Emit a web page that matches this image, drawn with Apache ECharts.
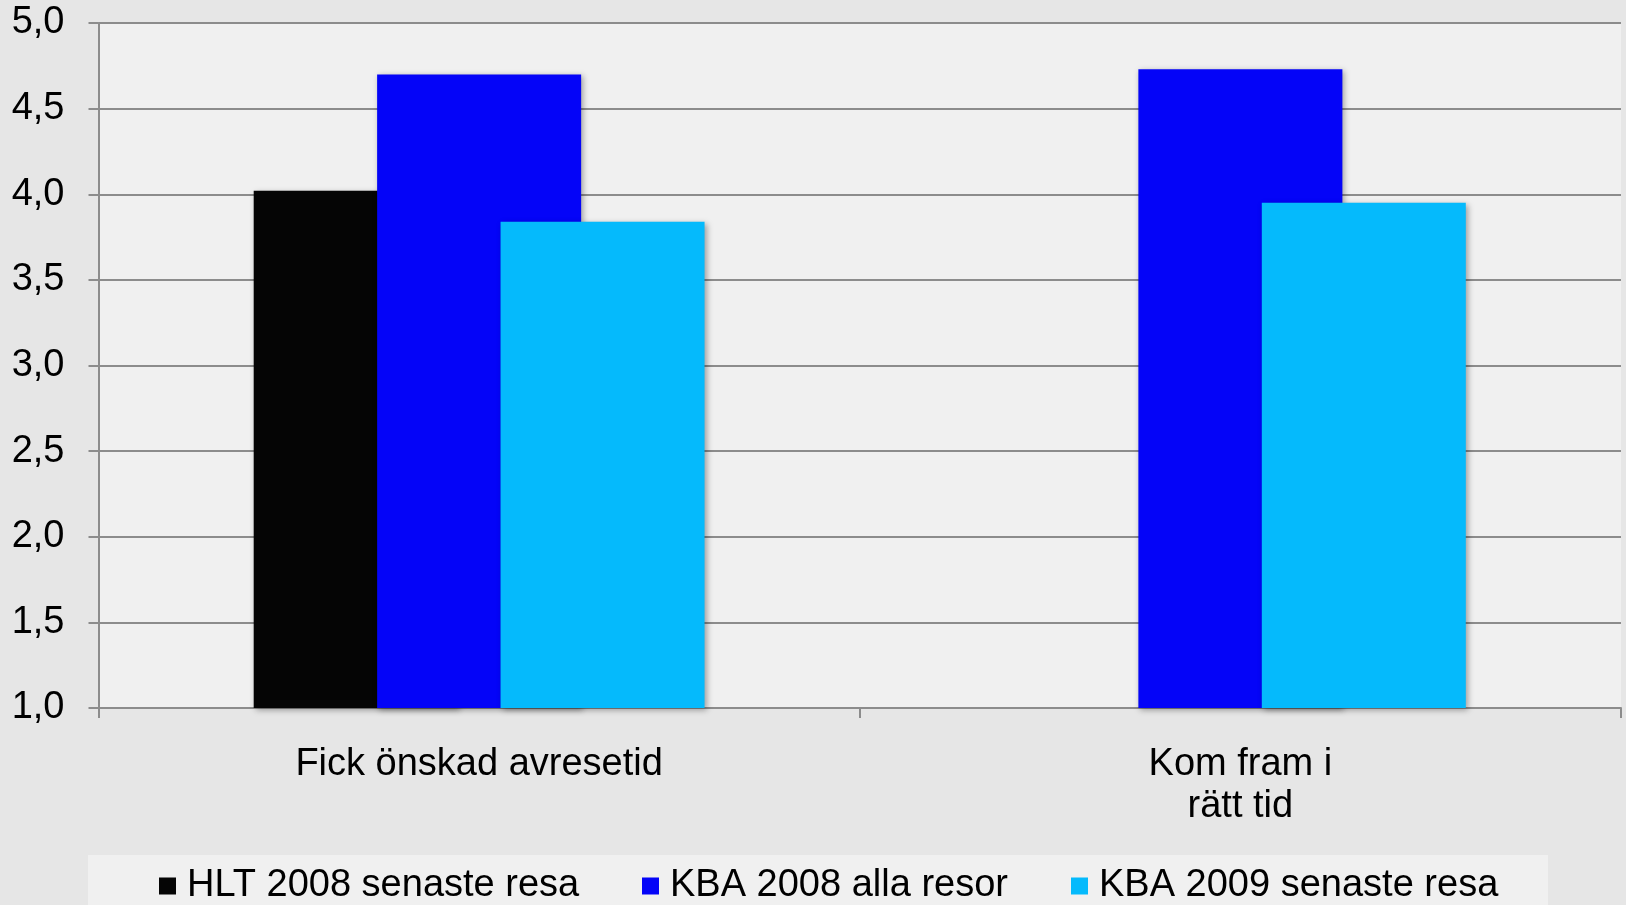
<!DOCTYPE html>
<html>
<head>
<meta charset="utf-8">
<script src="https://cdn.jsdelivr.net/npm/echarts@6/dist/echarts.min.js"></script>
<style>
html,body{margin:0;padding:0;background:#e6e6e6;}
#chart{width:1626px;height:905px;}
</style>
</head>
<body>
<div id="chart"></div>
<script>
const categories = ['Fick önskad avresetid', 'Kom fram i\nrätt tid'];
const seriesNames = ['HLT 2008 senaste resa', 'KBA 2008 alla resor', 'KBA 2009 senaste resa'];
const hlt2008 = [4.02, null];
const kba2008 = [4.70, 4.73];
const kba2009 = [3.84, 3.95];
const seriesColors = ['#050505', '#0404f8', '#05bafc'];
const yTicks = { min: 1, max: 5, interval: 0.5 };

const font = 'Liberation Sans, Arial, sans-serif';
const chart = echarts.init(document.getElementById('chart'));

function barSeries(name, data, color) {
  return {
    name: name,
    type: 'bar',
    data: data,
    barWidth: 204,
    barGap: '-39.5%',
    itemStyle: {
      color: color,
      shadowBlur: 6,
      shadowColor: 'rgba(0,0,0,0.35)',
      shadowOffsetX: 2,
      shadowOffsetY: 2
    }
  };
}

const legendLefts = [159, 642, 1071];
chart.setOption({
  backgroundColor: '#e6e6e6',
  animation: false,
  textStyle: { fontFamily: font },
  graphic: [{
    type: 'rect', left: 88, top: 855, z: -1,
    shape: { width: 1460, height: 60 },
    style: { fill: '#f0f0f0' }
  }],
  legend: seriesNames.map((n, i) => ({
    data: [n],
    left: legendLefts[i],
    top: 867,
    itemWidth: 17,
    itemHeight: 17,
    itemGap: 0,
    icon: 'rect',
    textStyle: { fontSize: 38, color: '#000', fontFamily: font, padding: [0, 0, 0, 6] },
    padding: 0
  })),
  grid: {
    left: 98.5, right: 5, top: 23, bottom: 197,
    show: true, backgroundColor: '#f0f0f0', borderWidth: 0,
    containLabel: false
  },
  xAxis: {
    type: 'category',
    data: categories,
    axisLine: { lineStyle: { color: '#8c8c8c', width: 2 } },
    axisTick: { show: true, length: 10, lineStyle: { color: '#8c8c8c', width: 2 } },
    axisLabel: { fontSize: 38, color: '#000', lineHeight: 42, margin: 36, fontFamily: font }
  },
  yAxis: {
    type: 'value',
    min: yTicks.min, max: yTicks.max, interval: yTicks.interval,
    axisLine: { show: true, lineStyle: { color: '#8c8c8c', width: 2 } },
    axisTick: { show: true, length: 10, lineStyle: { color: '#8c8c8c', width: 2 } },
    splitLine: { lineStyle: { color: '#8c8c8c', width: 2 } },
    axisLabel: {
      fontSize: 38, color: '#000', margin: 34, fontFamily: font,
      formatter: v => v.toFixed(1).replace('.', ',')
    }
  },
  series: [
    barSeries(seriesNames[0], hlt2008, seriesColors[0]),
    barSeries(seriesNames[1], kba2008, seriesColors[1]),
    barSeries(seriesNames[2], kba2009, seriesColors[2])
  ]
});
</script>
</body>
</html>
